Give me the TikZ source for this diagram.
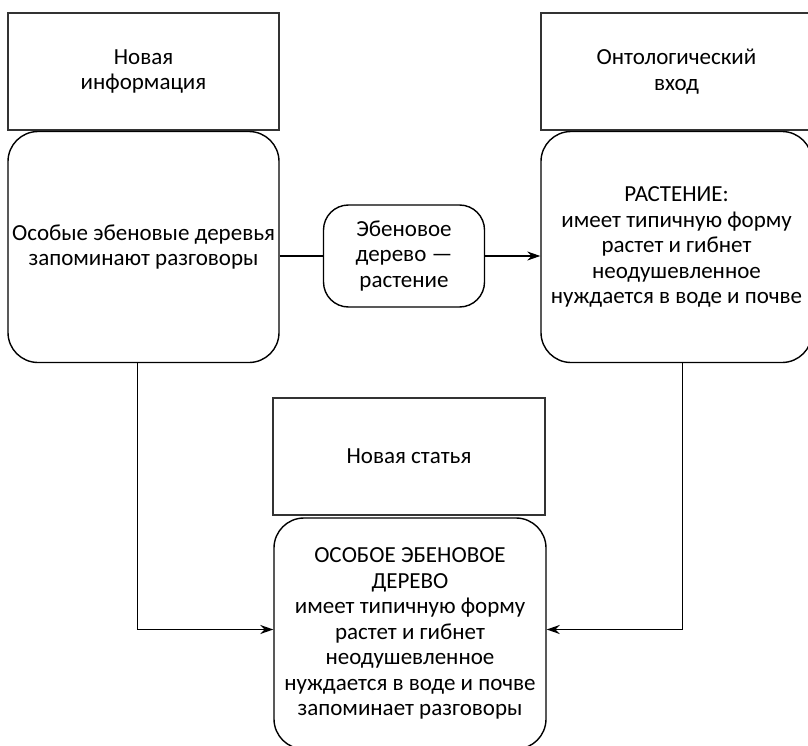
\documentclass[tikz,border=0pt]{standalone}
\usepackage{fontspec}
\setmainfont{Carlito}
\usetikzlibrary{arrows.meta, positioning}

\begin{document}
\begin{tikzpicture}[
        x=1pt, y=-1pt,
        label/.style={rectangle, draw=black!80, line width=1.4pt, align=center, font=\fontsize{23}{25.5}\selectfont, inner sep=0pt},
        card/.style={rectangle, draw, rounded corners=30pt, line width=1.4pt, align=center, font=\fontsize{23}{25.5}\selectfont, inner sep=0pt},
        link/.style={line width=1.3pt, -{Stealth[length=13pt, width=9pt]}}
    ]
        \useasboundingbox (0,0) rectangle (808,746);
        \clip (0,0) rectangle (808,746);

        % Headers
        \node[label, minimum width=271pt, minimum height=117pt] (newinfo) at (143.5, 71.5) {Новая\\информация};
        \node[label, minimum width=271pt, minimum height=117pt] (ontoin) at (676.5, 71.5) {Онтологический\\вход};
        \node[label, minimum width=272pt, minimum height=117pt] (newart) at (409, 456.5) {Новая статья};

        % Contents
        \node[card, minimum width=271pt, minimum height=231pt] (special) at (143.5, 247) {Особые эбеновые деревья\\запоминают разговоры};
        \node[card, minimum width=161pt, minimum height=102pt, rounded corners=25pt] (claim) at (404, 256) {Эбеновое\\дерево ---\\растение};
        \node[card, minimum width=271pt, minimum height=231pt] (plant) at (676.5, 247) {РАСТЕНИЕ:\\имеет типичную форму\\растет и гибнет\\неодушевленное\\нуждается в воде и почве};
        \node[card, minimum width=272pt, minimum height=231pt] (result) at (410, 633.5) {ОСОБОЕ ЭБЕНОВОЕ\\ДЕРЕВО\\имеет типичную форму\\растет и гибнет\\неодушевленное\\нуждается в воде и почве\\запоминает разговоры};

        % Arrows
        \draw[line width=1.3pt] (special.east |- claim.west) -- (claim.west);
        \draw[link] (claim.east) -- (plant.west |- claim.east);
        \draw[link] ([xshift=-6pt]special.south) |- ([yshift=4pt]result.west);
        \draw[link] ([xshift=6pt]plant.south) |- ([yshift=4pt]result.east);
    \end{tikzpicture}
\end{document}
